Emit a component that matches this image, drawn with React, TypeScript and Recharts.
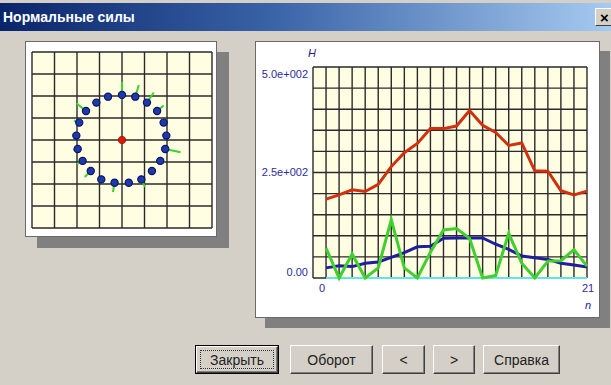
import React from 'react'
import {
  LineChart, Line, XAxis, YAxis, CartesianGrid,
  ScatterChart, Scatter, ReferenceLine,
} from 'recharts'

// step number n along the x axis
const nValues = [0, 1, 2, 3, 4, 5, 6, 7, 8, 9, 10, 11, 12, 13, 14, 15, 16, 17, 18, 19, 20]
// normal force series
const redValues = [187, 197, 209, 205, 222, 264, 297, 319, 354, 354, 360, 397, 362, 345, 314, 320, 254, 253, 207, 197, 206]
const blueValues = [24, 29, 27, 35, 38, 49, 60, 74, 75, 94, 95, 95, 95, 80, 68, 52, 48, 44, 35, 31, 26]
const greenValues = [71, 0, 57, 0, 24, 138, 24, 0, 61, 114, 117, 94, 0, 6, 106, 35, 0, 40, 41, 67, 28]
const cyanValues = [0, 0, 0, 0, 0, 0, 0, 0, 0, 0, 0, 0, 0, 0, 0, 0, 0, 0, 0, 0, 0]

const xTicks = [-1, 0, 1, 2, 3, 4, 5, 6, 7, 8, 9, 10, 11, 12, 13, 14, 15, 16, 17, 18, 19, 20]
const yTicks = [0, 50, 100, 150, 200, 250, 300, 350, 400, 450, 500]
const yLabels: Record<number, string> = { 500: '5.0e+002', 250: '2.5e+002', 0: '0.00' }
const xLabels: Record<number, string> = { 0: '0', 20: '21' }

// ball positions on the ring (grid units) and the length of each force vector
const ballX = [0, 0.59, 1.11, 1.56, 1.85, 1.97, 1.92, 1.70, 1.33, 0.86, 0.30, -0.33, -0.92, -1.39, -1.75, -1.97, -2.03, -1.90, -1.60, -1.14, -0.62]
const ballY = [2.05, 1.97, 1.70, 1.32, 0.79, 0.20, -0.41, -0.95, -1.41, -1.79, -1.94, -1.94, -1.79, -1.41, -0.95, -0.41, 0.20, 0.79, 1.32, 1.70, 1.97]
const vectorLen = [0.6, 0.55, 0.55, 0.38, 0, 0, 0.7, 0.2, 0, 0.38, 0, 0.43, 0, 0.38, 0.3, 0.2, 0, 0.25, 0.55, 0, 0]
const gridTicks = [-4, -3, -2, -1, 0, 1, 2, 3, 4]

const forceData = nValues.map((n, i) => ({
  n,
  red: redValues[i],
  blue: blueValues[i],
  green: greenValues[i],
  cyan: cyanValues[i],
}))

const balls = ballX.map((x, i) => ({ x, y: ballY[i] }))
const center = [{ x: 0, y: 0 }]

const labelFont = '"Liberation Sans", Arial, sans-serif'
const labelColor = '#2b2ba0'

function YTick(props: any) {
  const { x, y, payload } = props
  const label = yLabels[payload.value]
  if (!label) return null
  const shift = payload.value === 500 ? 7 : payload.value === 0 ? -6 : 0
  return (
    <text x={x} y={y + shift} dy="0.35em" textAnchor="end" fill={labelColor}
      fontSize={11} fontFamily={labelFont}>{label}</text>
  )
}

function XTick(props: any) {
  const { x, y, payload } = props
  const label = xLabels[payload.value]
  if (!label) return null
  const shift = payload.value === 0 ? -4 : 1
  return (
    <text x={x + shift} y={y} dy="0.71em" textAnchor="middle" fill={labelColor}
      fontSize={11} fontFamily={labelFont}>{label}</text>
  )
}

function Ball(props: any) {
  const { cx, cy } = props
  return <circle cx={cx} cy={cy} r={3.6} fill="#1e3aa8" stroke="#0c1466" strokeWidth={1.2} />
}

function CenterDot(props: any) {
  const { cx, cy } = props
  return <circle cx={cx} cy={cy} r={3.6} fill="#e01a0a" stroke="#a01000" strokeWidth={1} />
}

function Button({ left, width, label, isDefault }: { left: number; width: number; label: string; isDefault?: boolean }) {
  return (
    <div style={{
      position: 'absolute', left, top: 345, width, height: 29,
      boxSizing: 'border-box',
      border: isDefault ? '1px solid #000' : 'none',
    }}>
      <div style={{
        position: 'absolute', inset: 0, boxSizing: 'border-box',
        background: '#d4d0c8',
        borderTop: '1px solid #fff', borderLeft: '1px solid #fff',
        borderRight: '1px solid #404040', borderBottom: '1px solid #404040',
        boxShadow: 'inset -1px -1px 0 #808080',
        display: 'flex', alignItems: 'center', justifyContent: 'center',
        fontFamily: labelFont, fontSize: 14, color: '#222',
      }}>
        {isDefault && (
          <div style={{
            position: 'absolute', left: 3, top: 3, right: 3, bottom: 3,
            border: '1px dotted #333',
          }} />
        )}
        {label}
      </div>
    </div>
  )
}

export default function App() {
  return (
    <div style={{ position: 'fixed', left: 0, top: 0, width: 611, height: 385, background: '#d4d0c8', overflow: 'hidden' }}>
      {/* title bar */}
      <div style={{
        position: 'absolute', left: 0, top: 3, width: 611, height: 28,
        background: 'linear-gradient(to right, #0a246a, #3a64a8 45%, #a6caf0)',
      }}>
        <span style={{
          position: 'absolute', left: 3, top: 6, color: '#fff', fontWeight: 'bold',
          fontFamily: labelFont, fontSize: 14,
        }}>Нормальные силы</span>
        <div style={{
          position: 'absolute', left: 595, top: 5, width: 18, height: 18,
          background: '#d4d0c8', borderTop: '1px solid #fff', borderLeft: '1px solid #fff',
          borderBottom: '1px solid #404040', display: 'flex', alignItems: 'center',
          paddingLeft: 4, boxSizing: 'border-box',
          fontFamily: labelFont, fontWeight: 'bold', fontSize: 15, color: '#000',
        }}>×</div>
      </div>

      {/* left panel */}
      <div style={{ position: 'absolute', left: 37, top: 52, width: 192, height: 196, background: '#808080' }} />
      <div style={{ position: 'absolute', left: 25, top: 41, width: 192, height: 196, background: '#fff', boxSizing: 'border-box', border: '1px solid #6a6a6a' }} />
      <div style={{ position: 'absolute', left: 25, top: 41 }}>
        <ScatterChart width={192} height={196} margin={{ top: 11, right: 5, bottom: 9, left: 7 }}>
          <CartesianGrid fill="#fffde2" fillOpacity={1} stroke="#2a2a2a" strokeWidth={1.4} />
          <XAxis type="number" dataKey="x" domain={[-4, 4]} ticks={gridTicks} interval={0} hide />
          <YAxis type="number" dataKey="y" domain={[-4, 4]} ticks={gridTicks} interval={0} hide />
          {balls.map((b, i) => {
            if (!vectorLen[i]) return null
            const r = Math.hypot(b.x, b.y)
            const k = (r + vectorLen[i]) / r
            return (
              <ReferenceLine key={i} segment={[{ x: b.x, y: b.y }, { x: b.x * k, y: b.y * k }]}
                stroke="#3ad42a" strokeWidth={2} />
            )
          })}
          <Scatter data={balls} shape={<Ball />} isAnimationActive={false} />
          <Scatter data={center} shape={<CenterDot />} isAnimationActive={false} />
        </ScatterChart>
      </div>

      {/* right panel */}
      <div style={{ position: 'absolute', left: 265, top: 51, width: 345, height: 277, background: '#808080' }} />
      <div style={{ position: 'absolute', left: 255, top: 41, width: 345, height: 277, background: '#fff', boxSizing: 'border-box', border: '1px solid #6a6a6a' }} />
      <div style={{ position: 'absolute', left: 255, top: 41 }}>
        <LineChart width={345} height={277} data={forceData} margin={{ top: 26, right: 13, bottom: 0, left: 0 }}>
          <CartesianGrid fill="#fffde2" fillOpacity={1} stroke="#2a2a2a" strokeWidth={1.4} />
          <XAxis dataKey="n" type="number" domain={[-1, 20]} ticks={xTicks} height={40}
            axisLine={false} tickLine={false} tickSize={4} tickMargin={2} tick={<XTick />} interval={0} />
          <YAxis type="number" domain={[0, 500]} ticks={yTicks} width={58}
            axisLine={false} tickLine={false} tickSize={4} tickMargin={1} tick={<YTick />} interval={0} />
          <Line dataKey="cyan" stroke="#62e4ea" strokeWidth={2} dot={false} isAnimationActive={false} />
          <Line dataKey="red" stroke="#d2300c" strokeWidth={3} dot={false} isAnimationActive={false} />
          <Line dataKey="blue" stroke="#1e1e9e" strokeWidth={3} dot={false} isAnimationActive={false} />
          <Line dataKey="green" stroke="#3fd02e" strokeWidth={3} dot={false} isAnimationActive={false} />
        </LineChart>
      </div>
      <span style={{ position: 'absolute', left: 308, top: 47, fontFamily: labelFont, fontStyle: 'italic', fontSize: 11, color: '#22228a' }}>Н</span>
      <span style={{ position: 'absolute', left: 585, top: 299, fontFamily: labelFont, fontStyle: 'italic', fontSize: 11, color: '#22228a' }}>n</span>

      {/* buttons */}
      <Button left={195} width={84} label="Закрыть" isDefault />
      <Button left={290} width={83} label="Оборот" />
      <Button left={382} width={43} label="<" />
      <Button left={433} width={42} label=">" />
      <Button left={483} width={77} label="Справка" />
    </div>
  )
}
